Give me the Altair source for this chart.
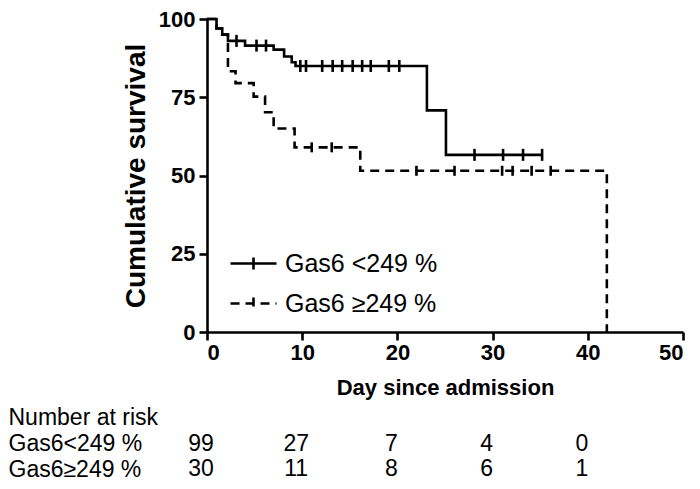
import altair as alt
import pandas as pd

FONT = "Liberation Sans"

# Kaplan-Meier step curves (day, cumulative survival %)
low_times = [0, 1.0, 1.6, 2.2, 4.0, 7.0, 8.1, 8.9, 9.3, 23.1, 25.1, 35.2]
low_surv = [100, 97.0, 95.0, 93.0, 91.5, 90.2, 88.0, 86.2, 85.0, 70.8, 56.6, 56.6]
high_times = [0, 1.0, 1.6, 2.2, 3.0, 4.9, 6.1, 7.0, 9.2, 16.1, 42.0]
high_surv = [100, 97.0, 95.0, 83.3, 79.5, 75.2, 70.2, 65.0, 59.0, 51.5, 0]

# censored observations (day)
low_censor = [3.1, 5.2, 6.2, 9.8, 10.4, 12.1, 13.2, 14.2, 15.3, 16.3, 17.2,
              19.1, 20.2, 28.1, 31.1, 33.2, 35.2]
high_censor = [11.0, 13.1, 22.0, 26.0, 31.0, 32.1, 34.1, 36.1]

groups = ["Gas6 <249 %", "Gas6 \u2265249 %"]

# number at risk table
risk_rows = ["Number at risk", "Gas6<249 %", "Gas6\u2265249 %"]
risk_times = [0, 10, 20, 30, 40]
risk_low = [99, 27, 7, 4, 0]
risk_high = [30, 11, 8, 6, 1]


def level(times, surv, t):
    v = surv[0]
    for ti, si in zip(times, surv):
        if ti <= t:
            v = si
    return v


curve_df = pd.DataFrame(
    [{"time": t, "surv": s, "group": groups[0]} for t, s in zip(low_times, low_surv)]
    + [{"time": t, "surv": s, "group": groups[1]} for t, s in zip(high_times, high_surv)]
)
cens_low_df = pd.DataFrame({"time": low_censor,
                            "surv": [level(low_times, low_surv, t) for t in low_censor]})
cens_high_df = pd.DataFrame({"time": high_censor,
                             "surv": [level(high_times, high_surv, t) for t in high_censor]})
risk_df = pd.DataFrame(
    [{"row": risk_rows[1], "time": t, "n": n} for t, n in zip(risk_times, risk_low)]
    + [{"row": risk_rows[2], "time": t, "n": n} for t, n in zip(risk_times, risk_high)]
)

xscale = alt.Scale(domain=[0, 50], nice=False, zero=False)
yscale = alt.Scale(domain=[0, 100], nice=False)

x_enc = alt.X("time:Q", scale=xscale,
              axis=alt.Axis(values=[0, 10, 20, 30, 40, 50], format="d",
                            title="Day since admission", titlePadding=14,
                            titleFontSize=22))
y_enc = alt.Y("surv:Q", scale=yscale,
              axis=alt.Axis(values=[0, 25, 50, 75, 100], format="d",
                            title="Cumulative survival", titlePadding=8,
                            titleFontSize=28, labelPadding=4))

lines = alt.Chart(curve_df).mark_line(
    interpolate="step-after", color="black", strokeWidth=2.6
).encode(
    x=x_enc,
    y=y_enc,
    detail="group:N",
    strokeDash=alt.StrokeDash(
        "group:N",
        scale=alt.Scale(domain=groups, range=[[1, 0], [9, 6]]),
        legend=alt.Legend(
            title=None, orient="none", legendX=22, legendY=220,
            symbolType="M-1,0H1M0,-0.26V0.26", symbolSize=2116,
            symbolStrokeWidth=2.6, symbolStrokeColor="black",
            labelFont=FONT, labelFontSize=25, labelColor="black",
            labelOffset=7, rowPadding=2, padding=0,
        ),
    ),
)

ticks_low = alt.Chart(cens_low_df).mark_tick(
    orient="vertical", color="black", thickness=2.6, size=12, opacity=1
).encode(x=alt.X("time:Q", scale=xscale), y=alt.Y("surv:Q", scale=yscale))

ticks_high = alt.Chart(cens_high_df).mark_tick(
    orient="vertical", color="black", thickness=2.6, size=10, opacity=1
).encode(x=alt.X("time:Q", scale=xscale), y=alt.Y("surv:Q", scale=yscale))

km = alt.layer(lines, ticks_low, ticks_high).properties(width=476, height=313)

risk = alt.Chart(risk_df).mark_text(
    font=FONT, fontSize=23, color="black", align="center", baseline="middle", dx=-6
).encode(
    x=alt.X("time:Q", scale=xscale, axis=None),
    y=alt.Y("row:N", sort=risk_rows,
            scale=alt.Scale(domain=risk_rows, paddingInner=0, paddingOuter=0),
            axis=alt.Axis(title=None, domain=False, ticks=False, tickSize=0,
                          labelAlign="left", labelPadding=199, labelFontSize=23,
                          labelFontWeight="normal", labelBaseline="middle")),
    text="n:Q",
).properties(width=476, height=77)

chart = alt.vconcat(km, risk, spacing=7, background="white", padding=0).configure_view(
    stroke=None
).configure_axis(
    domainColor="black", domainWidth=2.6, tickColor="black", tickWidth=2.6,
    tickSize=8, labelFont=FONT, labelFontWeight="bold", labelFontSize=22,
    labelColor="black", titleFont=FONT, titleFontWeight="bold", titleColor="black",
    grid=False,
)

chart.save("out.html", embed_options={"renderer": "svg", "actions": False})
